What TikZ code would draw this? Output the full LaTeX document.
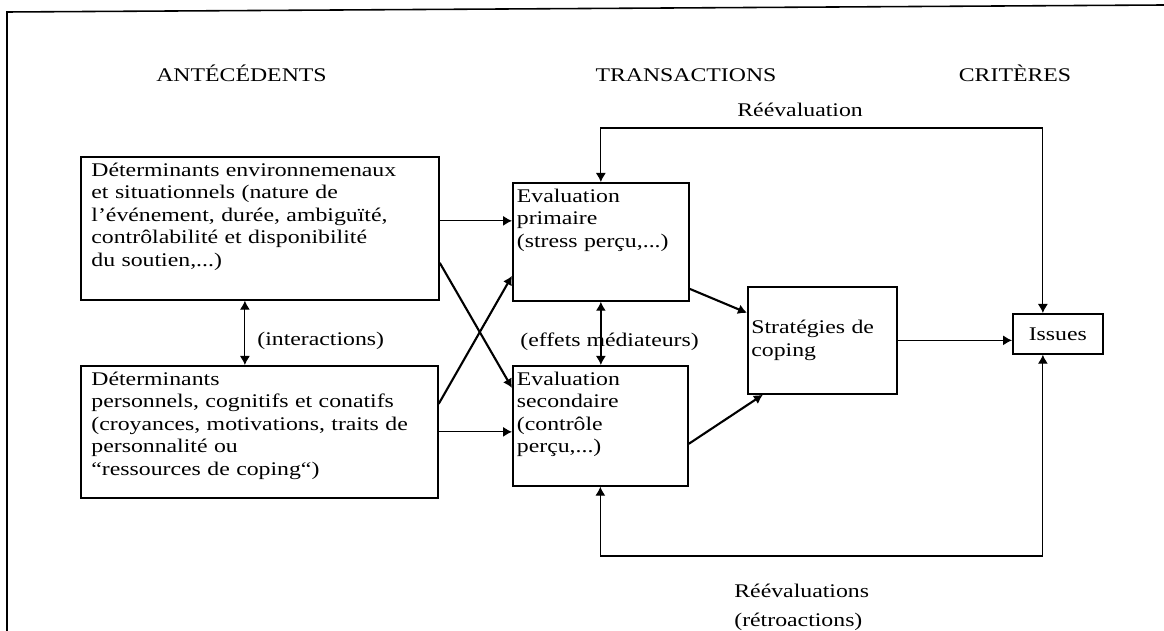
\documentclass[tikz,border=0pt]{standalone}
\usepackage{fontspec}
\setmainfont{Liberation Serif}[FakeStretch=1.23]
\usetikzlibrary{arrows.meta}

\begin{document}
\begin{tikzpicture}[x=0.02cm,y=-0.02cm,>={Latex[length=1.8mm,width=2mm]},
    every node/.style={font=\fontsize{11}{12.8}\selectfont}]

      \useasboundingbox (0,0) rectangle (1164,631);
      \draw[line width=0.9pt] (7,631) -- (7,12) -- (1164,5);

      \begin{scope}[every node/.style={draw,line width=1pt,anchor=north west,align=left,
          inner ysep=3pt,text height=8pt,font=\fontsize{11}{12.8}\selectfont}]
        \node[inner xsep=6pt,text width=6.74cm,text depth=2.368cm] (1) at (80,156)
          {Déterminants environnemenaux\\ et situationnels (nature de\\ l’événement, durée, ambiguïté,\\ contrôlabilité et disponibilité\\ du soutien,...)};
        \node[inner xsep=6pt,text width=6.718cm,text depth=2.148cm] (2) at (80,365)
          {Déterminants\\ personnels, cognitifs et conatifs\\ (croyances, motivations, traits de\\ personnalité ou\\ “ressources de coping“)};
        \node[inner xsep=2.3pt,text width=3.358cm,text depth=1.868cm] (3) at (512,182)
          {Evaluation\\ primaire\\ (stress perçu,...)};
        \node[inner xsep=2.3pt,text width=3.338cm,text depth=1.908cm] (4) at (512,365)
          {Evaluation\\ secondaire\\ (contrôle\\ perçu,...)};
      \end{scope}

      \begin{scope}[every node/.style={draw,line width=1pt,anchor=north west,
          font=\fontsize{11}{12.8}\selectfont}]
        \node[align=left,inner xsep=2pt,text width=2.84cm,minimum height=2.14cm] (5) at (747,286)
          {Stratégies de\\ coping};
        \node[align=center,inner sep=0pt,minimum width=1.8cm,minimum height=0.8cm] (6) at (1012,313)
          {Issues};
      \end{scope}

      \begin{scope}[every node/.style={inner sep=0pt,font=\fontsize{11}{12.8}\selectfont}]
        \node[anchor=base] (h1) at (241.5,82) {ANTÉCÉDENTS};
        \node[anchor=base] (h2) at (686,82) {TRANSACTIONS};
        \node[anchor=base] (h3) at (1015,82) {CRITÈRES};
        \node[anchor=base west] (l1) at (737,117) {Réévaluation};
        \node[anchor=west] (l2) at (257,341) {(interactions)};
        \node[anchor=west] (l3) at (520,342) {(effets médiateurs)};
        \node[anchor=base west] (l4) at (734,598) {Réévaluations};
        \node[anchor=base west] (l5) at (734,626) {(rétroactions)};
      \end{scope}

      \coordinate (r1) at (800,128);
      \coordinate (r2) at (800,556);

      \begin{scope}[every edge/.style={draw,->,line width=1.2pt}]
        \path ([yshift=-0.69cm]1.east) edge ([yshift=0.76cm]4.west);
        \path ([yshift=0.56cm]2.east) edge ([yshift=-0.68cm]3.west);
        \path ([yshift=-0.94cm]3.east) edge ([yshift=0.55cm]5.west);
        \path ([yshift=-0.36cm]4.east) edge ([xshift=-1.19cm]5.south);
      \end{scope}

      \begin{scope}[every edge/.style={draw,->,line width=0.6pt}]
        \path ([yshift=0.15cm]1.east) edge ([yshift=0.15cm]1.east -| 3.west);
        \path (2.east) edge (2.east -| 4.west);
        \path (5.east) edge (5.east -| 6.west);
        \path ([xshift=-0.3cm]1.south) edge[<->] ([xshift=-0.3cm]1.south |- 2.north);
        \path (3.south) edge[<->,line width=0.8pt] (3.south |- 4.north);
      \end{scope}

      \draw[<->,line width=0.6pt] (3.north) |- (r1) -| ([xshift=-0.3cm]6.north);
      \draw[<->,line width=0.6pt] (4.south) |- (r2) -| ([xshift=-0.3cm]6.south);

    \end{tikzpicture}
\end{document}
